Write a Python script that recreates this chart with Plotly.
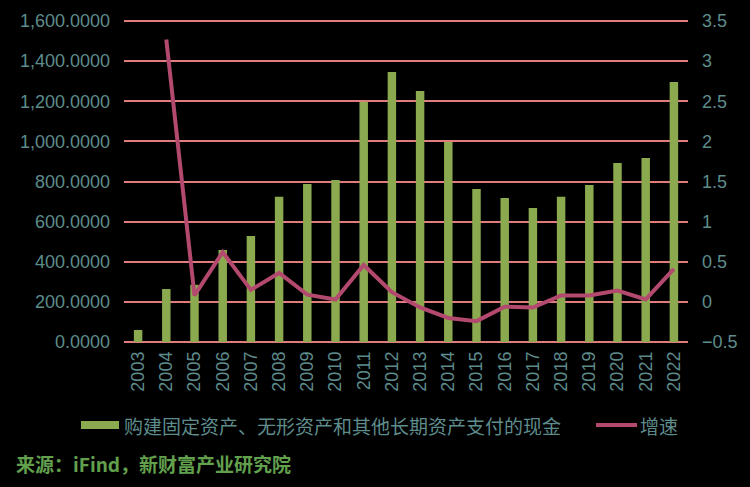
import plotly.graph_objects as go

years = [str(y) for y in range(2003, 2023)]
capex = [60, 264, 285, 458, 528, 724, 787, 807, 1198, 1346, 1251, 997, 762, 718, 668, 724, 782, 892, 917, 1296]
growth = [None, 3.27, 0.08, 0.62, 0.15, 0.36, 0.09, 0.03, 0.46, 0.12, -0.07, -0.20, -0.24, -0.06, -0.07, 0.08, 0.08, 0.14, 0.03, 0.41]

bar_name = "购建固定资产、无形资产和其他长期资产支付的现金"
line_name = "增速"
source = "来源：iFind，新财富产业研究院"

tick_color = "#5E8C8C"
grid_color = "#E07C7C"
bar_color = "#8BAA4F"
line_color = "#B3496F"
font_family = "Liberation Sans, Arial, Noto Sans CJK SC"
cjk = "Noto Sans CJK SC"

W, H = 750, 487
L, R, T, B = 124, 688, 19, 344


def px(x):
    return (x - L) / (R - L)


def py(y):
    return (B - y) / (B - T)


fig = go.Figure()
fig.add_trace(go.Bar(x=years, y=capex, name=bar_name, marker_color=bar_color,
                     marker_line_width=0, width=0.3, yaxis="y", showlegend=False))
fig.add_trace(go.Scatter(x=years, y=growth, name=line_name, mode="lines",
                         line=dict(color=line_color, width=4), yaxis="y2", showlegend=False))

shapes = [
    dict(type="rect", xref="paper", yref="paper", x0=px(81), x1=px(119), y0=py(429), y1=py(421),
         fillcolor=bar_color, line_width=0),
    dict(type="line", xref="paper", yref="paper", x0=px(596), x1=px(637), y0=py(425), y1=py(425),
         line=dict(color=line_color, width=4)),
]

annotations = [
    dict(text=bar_name, xref="paper", yref="paper", x=px(122), y=py(425), xanchor="left",
         yanchor="middle", showarrow=False, font=dict(size=19, color=tick_color, family=cjk)),
    dict(text=line_name, xref="paper", yref="paper", x=px(638), y=py(425), xanchor="left",
         yanchor="middle", showarrow=False, font=dict(size=19, color=tick_color, family=cjk)),
    dict(text="<b>" + source + "</b>", xref="paper", yref="paper", x=px(14), y=py(463),
         xanchor="left", yanchor="middle", showarrow=False,
         font=dict(size=19, color="#62A04E", family=cjk)),
]

fig.update_layout(
    width=W, height=H,
    paper_bgcolor="black", plot_bgcolor="black",
    margin=dict(l=L, r=W - R, t=T, b=H - B),
    font=dict(family=font_family, color=tick_color, size=18),
    xaxis=dict(type="category", tickangle=-90, showgrid=False, showline=False,
               tickfont=dict(size=18, color=tick_color), ticks="", ticklen=0,
               ticklabelstandoff=3),
    yaxis=dict(range=[-10, 1610], dtick=200, tickformat=",.4f", showgrid=True,
               gridcolor=grid_color, gridwidth=1.5, zeroline=True, zerolinecolor=grid_color,
               zerolinewidth=1.5, showline=False, tickfont=dict(size=18, color=tick_color),
               ticklabelstandoff=13),
    yaxis2=dict(range=[-0.525, 3.525], dtick=0.5, overlaying="y", side="right",
                showgrid=False, zeroline=False, showline=False,
                tickfont=dict(size=18, color=tick_color), ticklabelstandoff=13),
    showlegend=False,
    bargap=0.7,
    shapes=shapes,
    annotations=annotations,
)

fig.write_html("out.html", config={"displayModeBar": False},
               post_script="document.body.style.margin='0';document.body.style.background='black';")
